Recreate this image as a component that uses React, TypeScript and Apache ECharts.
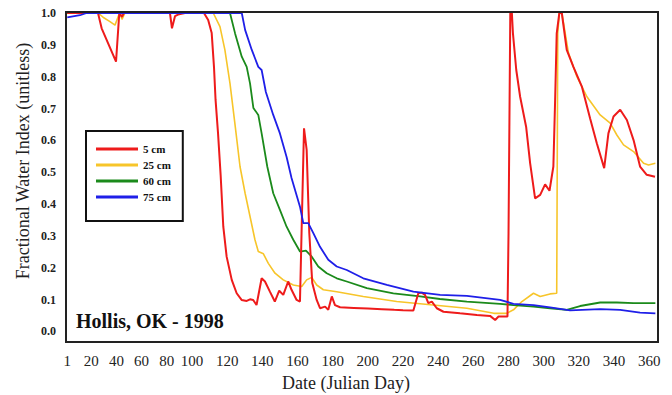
import React, { useEffect, useRef } from "react";
import * as echarts from "echarts";

// Fractional Water Index, Hollis OK 1998 — [Julian day, FWI]
const cm5: [number, number][] = [
  [1, 1], [25.4, 1], [28.3, 0.952], [39.7, 0.847], [42.3, 1], [44.4, 0.988], [46, 1],
  [82.5, 1], [84.1, 0.952], [86.5, 0.99], [88.9, 0.995], [94.4, 1],
  [106.8, 1], [109.2, 0.978], [111.2, 0.937], [112.5, 0.831], [113.4, 0.727], [114.8, 0.623],
  [116.3, 0.49], [117.8, 0.329], [119.7, 0.235], [122.6, 0.162], [125.4, 0.12], [128.2, 0.099],
  [131.1, 0.096], [133, 0.101], [134.8, 0.099], [136.7, 0.083], [139.6, 0.167], [141.5, 0.157],
  [144.3, 0.125], [147.1, 0.094], [149.6, 0.128], [151.9, 0.115], [154.7, 0.157], [156.6, 0.131],
  [159.5, 0.099], [161.4, 0.094], [162.3, 0.309], [163.7, 0.638], [165.2, 0.57], [166.7, 0.309],
  [168.4, 0.152], [170.9, 0.099], [172.8, 0.073], [175.7, 0.078], [177.5, 0.068], [179.5, 0.11],
  [181.3, 0.083], [184.2, 0.076], [192, 0.074], [200, 0.072], [208, 0.07], [215, 0.068],
  [220, 0.067], [225.9, 0.066], [228.7, 0.12], [230.7, 0.122], [232.5, 0.115], [234.4, 0.089],
  [236.4, 0.094], [239.2, 0.073], [243, 0.062], [252.4, 0.057], [262, 0.052], [269.5, 0.049],
  [272.4, 0.036], [274.3, 0.047], [279.4, 0.047], [280, 0.309], [281, 1], [281.9, 1],
  [282.5, 0.937], [284.4, 0.821], [286.6, 0.737], [290, 0.643], [292.3, 0.528], [295.1, 0.418],
  [298, 0.429], [300.8, 0.462], [303.3, 0.442], [305.5, 0.518], [306.5, 0.727], [307.4, 0.936],
  [308.9, 1], [310.3, 1], [313.1, 0.884], [316.9, 0.831], [321.7, 0.769], [326.4, 0.669],
  [330.2, 0.591], [334.4, 0.513], [336.8, 0.622], [339.7, 0.675], [343.5, 0.696], [347.3, 0.664],
  [351.1, 0.601], [354.8, 0.518], [358.6, 0.492], [363.3, 0.486],
];

const cm25: [number, number][] = [
  [1, 1], [25.6, 1], [30, 0.985], [34.9, 0.973], [38.9, 0.962], [41.5, 0.99], [42.9, 1],
  [44.4, 0.98], [46.8, 1], [112.1, 1], [115.9, 0.957], [118.7, 0.884], [121.6, 0.779],
  [124.5, 0.648], [127.3, 0.518], [130.2, 0.434], [133, 0.361], [135.8, 0.288], [137.7, 0.251],
  [140.6, 0.244], [143.4, 0.214], [147.2, 0.183], [151.9, 0.162], [157.6, 0.146], [162.4, 0.141],
  [165.2, 0.162], [168.1, 0.17], [170.9, 0.146], [174.7, 0.131], [182.3, 0.125], [197.4, 0.11],
  [216.4, 0.094], [229.7, 0.087], [243, 0.08], [256.3, 0.073], [271.6, 0.057], [279, 0.057],
  [282.8, 0.068], [287.6, 0.094], [294.2, 0.12], [298, 0.11], [303.6, 0.118], [307.4, 0.12],
  [308, 0.936], [308.9, 1], [310.3, 1], [314.1, 0.874], [318.9, 0.8], [324.6, 0.737],
  [332.1, 0.68], [337.8, 0.654], [341.6, 0.617], [345.4, 0.586], [351.1, 0.565], [356.8, 0.528],
  [359.6, 0.523], [363.5, 0.528],
];

const cm60: [number, number][] = [
  [1, 1], [121.6, 1], [124.5, 0.936], [128.3, 0.863], [131.1, 0.831], [133, 0.779],
  [134.9, 0.702], [137.7, 0.68], [139.6, 0.622], [142.8, 0.518], [146.2, 0.434], [150, 0.382],
  [153.8, 0.329], [157.6, 0.288], [161.4, 0.251], [164.8, 0.254], [168.1, 0.235], [171.8, 0.204],
  [176.6, 0.183], [182.3, 0.167], [188, 0.157], [199.4, 0.136], [214.5, 0.12], [229.7, 0.11],
  [241, 0.102], [256.3, 0.094], [275.2, 0.087], [282.8, 0.083], [294.2, 0.078], [303.6, 0.073],
  [313.1, 0.068], [320.7, 0.08], [332.1, 0.091], [341.6, 0.091], [351.1, 0.089], [363.5, 0.089],
];

const cm75: [number, number][] = [
  [1, 0.986], [11.1, 0.993], [16.4, 1], [128.3, 1], [130.2, 0.947], [134, 0.884],
  [137.7, 0.831], [139.6, 0.821], [142, 0.752], [146.2, 0.68], [150, 0.622], [153.8, 0.548],
  [156.6, 0.482], [161.4, 0.392], [163.3, 0.34], [166.1, 0.34], [169, 0.309], [172.8, 0.266],
  [177.5, 0.225], [182.3, 0.204], [188, 0.193], [197.4, 0.167], [210.8, 0.146], [225.9, 0.125],
  [241.1, 0.115], [256.3, 0.112], [275.2, 0.099], [282.8, 0.087], [294.2, 0.083], [303.6, 0.076],
  [315, 0.066], [332.1, 0.07], [343.5, 0.068], [354.8, 0.059], [363.5, 0.057],
];

const xTicks = [1, 20, 40, 60, 80, 100, 120, 140, 160, 180, 200, 220, 240, 260, 280, 300, 320, 340, 360];
const yTicks = [0, 0.1, 0.2, 0.3, 0.4, 0.5, 0.6, 0.7, 0.8, 0.9, 1.0];
const legendNames = ["5 cm", "25 cm", "60 cm", "75 cm"];

const SERIF = "'Liberation Serif', 'Times New Roman', 'DejaVu Serif', serif";

export default function App() {
  const ref = useRef<HTMLDivElement>(null);
  useEffect(() => {
    if (!ref.current) return;
    const chart = echarts.init(ref.current, undefined, { renderer: "svg" });

    const seriesDefs = [
      { name: "25 cm", data: cm25, color: "#f7c52a", width: 1.6 },
      { name: "60 cm", data: cm60, color: "#1b8a1b", width: 1.8 },
      { name: "5 cm", data: cm5, color: "#ee1b1b", width: 2 },
      { name: "75 cm", data: cm75, color: "#1f1fe8", width: 1.8 },
    ];

    const series: any[] = [];
    [0, 1].forEach((gi) => {
      seriesDefs.forEach((s) => {
        series.push({
          type: "line",
          name: s.name,
          data: s.data,
          xAxisIndex: gi,
          yAxisIndex: gi,
          symbol: "none",
          showSymbol: false,
          clip: true,
          lineStyle: { color: s.color, width: s.width },
          itemStyle: { color: s.color },
          silent: true,
        });
      });
    });

    const xLabel = {
      fontFamily: SERIF,
      fontSize: 15,
      color: "#222",
      margin: 11,
    };

    const yCommon = {
      type: "value",
      min: -0.033,
      max: 1.0,
      axisLine: { show: false },
      axisTick: { show: false },
      splitLine: { show: false },
    };

    chart.setOption({
      animation: false,
      backgroundColor: "#ffffff",
      grid: [
        { left: 66, top: 13, width: 126, height: 329, containLabel: false },
        { left: 192, top: 13, width: 466, height: 329, containLabel: false },
      ],
      xAxis: [
        {
          type: "value",
          gridIndex: 0,
          min: 0,
          max: 100,
          axisLine: { show: false },
          axisTick: { show: false },
          splitLine: { show: false },
          axisLabel: {
            ...xLabel,
            customValues: xTicks.filter((t) => t < 100),
            formatter: (v: number) => String(v),
          },
        },
        {
          type: "value",
          gridIndex: 1,
          min: 100,
          max: 365,
          axisLine: { show: false },
          axisTick: { show: false },
          splitLine: { show: false },
          axisLabel: {
            ...xLabel,
            customValues: xTicks.filter((t) => t >= 100),
            formatter: (v: number) => String(v),
          },
        },
      ],
      yAxis: [
        {
          ...yCommon,
          gridIndex: 0,
          axisLabel: {
            customValues: yTicks,
            formatter: (v: number) => v.toFixed(1),
            fontFamily: SERIF,
            fontWeight: "bold",
            fontSize: 12,
            color: "#222",
            margin: 10,
          },
        },
        {
          ...yCommon,
          gridIndex: 1,
          axisLabel: { show: false },
        },
      ],
      legend: {
        data: legendNames,
        orient: "vertical",
        left: 86,
        top: 131,
        icon: "rect",
        itemWidth: 42,
        itemHeight: 3,
        itemGap: 4,
        padding: [12, 12, 18, 10],
        borderColor: "#111",
        borderWidth: 2,
        backgroundColor: "#fff",
        textStyle: {
          fontFamily: SERIF,
          fontWeight: "bold",
          fontSize: 11,
          lineHeight: 12,
          color: "#111",
        },
        selectedMode: false,
      },
      graphic: [
        {
          type: "rect",
          shape: { x: 66, y: 12, width: 592, height: 330 },
          style: { fill: "none", stroke: "#222", lineWidth: 2 },
          z: 100,
          silent: true,
        },
        {
          type: "text",
          x: 23,
          y: 161,
          rotation: Math.PI / 2,
          style: {
            text: "Fractional Water Index (unitless)",
            fontFamily: SERIF,
            fontSize: 18,
            fill: "#222",
            textAlign: "center",
            textVerticalAlign: "middle",
          },
        },
        {
          type: "text",
          x: 346,
          y: 383,
          style: {
            text: "Date (Julian Day)",
            fontFamily: SERIF,
            fontSize: 18,
            fill: "#222",
            textAlign: "center",
            textVerticalAlign: "middle",
          },
        },
        {
          type: "text",
          x: 76,
          y: 321,
          style: {
            text: "Hollis, OK - 1998",
            fontFamily: SERIF,
            fontSize: 20,
            fontWeight: "bold",
            fill: "#111",
            textAlign: "left",
            textVerticalAlign: "middle",
          },
        },
      ],
      series,
    });

    return () => chart.dispose();
  }, []);

  return (
    <div
      ref={ref}
      style={{ position: "fixed", left: 0, top: 0, width: 672, height: 395, background: "#fff" }}
    />
  );
}
